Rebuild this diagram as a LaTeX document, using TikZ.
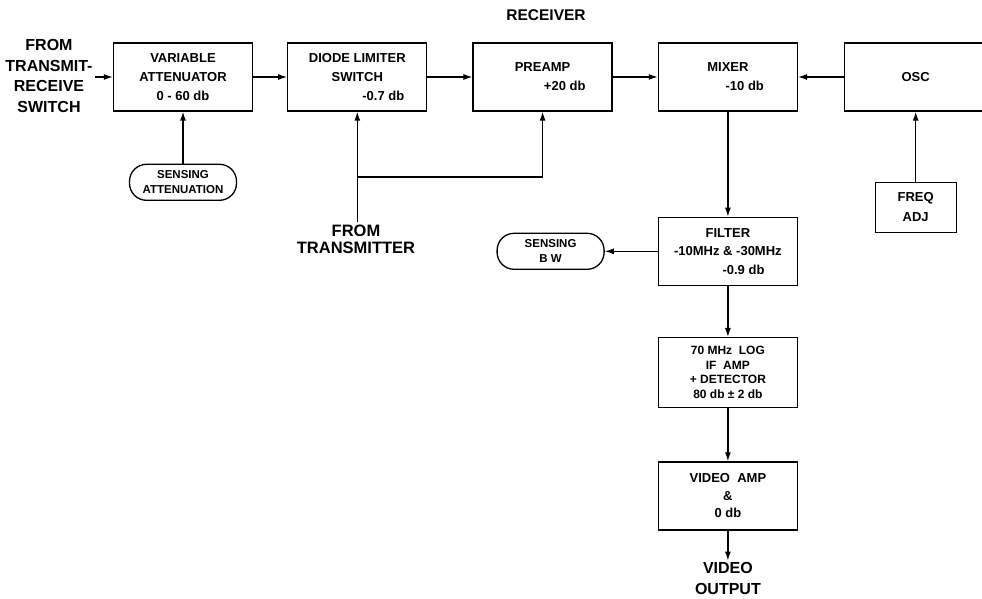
\documentclass[tikz,border=0pt]{standalone}
\usepackage{fontspec}
\setmainfont{Liberation Sans}
\usetikzlibrary{arrows.meta,positioning}

\begin{document}
\begin{tikzpicture}[
  x=1pt, y=-1pt,
  blk/.style={draw,line width=1.3pt,minimum width=139pt,minimum height=68pt,align=center,inner sep=2pt,font=\bfseries\fontsize{13}{19}\selectfont},
  sense/.style={draw,line width=1.3pt,rounded corners=17pt,minimum width=107pt,minimum height=36pt,align=center,inner sep=1pt,font=\bfseries\fontsize{11.5}{15}\selectfont},
  lbl/.style={align=center,inner sep=2pt,font=\bfseries\fontsize{16}{20.5}\selectfont},
  sig/.style={-{Latex[length=9pt,width=6pt]},line width=1.3pt}
]
  \useasboundingbox (0,0) rectangle (982,599);

  \node[lbl, font=\bfseries\fontsize{15.5}{18}\selectfont] (title) at (546,15) {RECEIVER};

  % main chain
  \node[blk] (att) at (183,77) {VARIABLE\\ATTENUATOR\\0 - 60 db};
  \node[blk, right=34pt of att] (dls) {DIODE LIMITER\\SWITCH\\\hspace*{4em}-0.7 db};
  \node[blk, right=45pt of dls] (pre) {PREAMP\\\hspace*{3.4em}+20 db};
  \node[blk, right=45pt of pre] (mix) {MIXER\\\hspace*{2.6em}-10 db};
  \node[blk, right=46pt of mix, minimum width=142pt] (osc) {OSC};
  \node[blk, below=70pt of osc, minimum width=81pt, minimum height=50pt, font=\bfseries\fontsize{13}{20}\selectfont] (frq) {FREQ\\ADJ};

  % IF chain
  \node[blk, below=105pt of mix, font=\bfseries\fontsize{13}{18.5}\selectfont] (flt) {FILTER\\-10MHz \& -30MHz\\\hspace*{2.4em}-0.9 db};
  \node[blk, below=51pt of flt, minimum height=70pt, font=\bfseries\fontsize{12}{14.5}\selectfont] (log) {70 MHz\ \ LOG\\IF\ \ AMP\\+ DETECTOR\\80 db ± 2 db};
  \node[blk, below=53pt of log, font=\bfseries\fontsize{13}{17.5}\selectfont] (vid) {VIDEO\ \ AMP\\\&\\0 db};

  % sensing inputs
  \node[sense, below=52pt of att] (satt) {SENSING\\ATTENUATION};
  \node[sense, left=53pt of flt] (sbw) {SENSING\\B W};

  % outside labels
  \node[lbl] (trs) at (49,76) {FROM\\TRANSMIT-\\RECEIVE\\SWITCH};
  \node[lbl, font=\bfseries\fontsize{16.5}{17}\selectfont] (xmt) at (356,239) {FROM\\TRANSMITTER};
  \node[lbl, below=30pt of vid] (vout) {VIDEO\\OUTPUT};

  \draw[sig] (trs.east |- att.west) -- (att.west);
  \draw[sig] (att) -- (dls);
  \draw[sig] (dls) -- (pre);
  \draw[sig] (pre) -- (mix);
  \draw[sig] (osc) -- (mix);
  \draw[sig] (frq) -- (osc);
  \draw[sig] (satt) -- (att);

  \coordinate (jn) at (dls.south |- 0,177);
  \draw[sig] (xmt.north -| dls.south) -- (dls.south);
  \draw[sig] (jn) -| (pre.south);

  \draw[sig] (mix) -- (flt);
  \draw[sig] (flt) -- (sbw);
  \draw[sig] (flt) -- (log);
  \draw[sig] (log) -- (vid);
  \draw[sig] (vid) -- (vout);
\end{tikzpicture}
\end{document}
